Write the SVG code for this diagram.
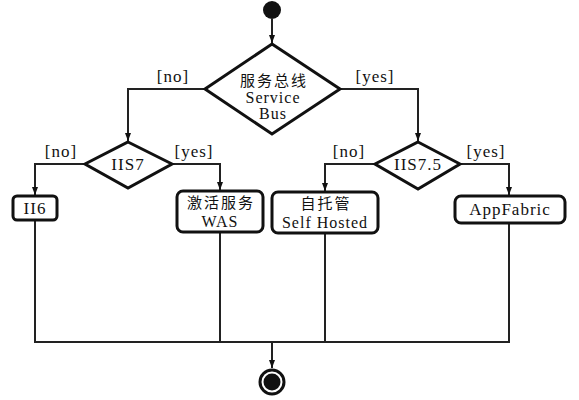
<svg xmlns="http://www.w3.org/2000/svg" width="579" height="400" viewBox="0 0 579 400">
<style>
  .t { font-family: "Liberation Serif", "Noto Sans CJK SC", serif; font-size: 17px; fill: #111; text-anchor: middle; letter-spacing: 1px; }
  .s { font-size: 16px; }
  .cjk { font-family: "Noto Sans CJK SC", "Liberation Serif", sans-serif; font-size: 15px; letter-spacing: 2px; }
  .shape { fill: #fff; stroke: #111; stroke-width: 3; stroke-linejoin: miter; }
  .box { fill: #fff; stroke: #111; stroke-width: 3; }
  .edge { fill: none; stroke: #222; stroke-width: 2; }
</style>
<defs>
  <marker id="arr" markerUnits="userSpaceOnUse" markerWidth="9" markerHeight="7" refX="8" refY="3" orient="auto">
    <path d="M0,0 L8,3 L0,6 z" fill="#111"/>
  </marker>
</defs>
<rect width="579" height="400" fill="#fff"/>
<g id="connectors">
  <path class="edge" d="M272,19 L272,43" marker-end="url(#arr)"/>
  <path class="edge" d="M205,89 L128,89 L128,141" marker-end="url(#arr)"/>
  <path class="edge" d="M340,89 L418,89 L418,141" marker-end="url(#arr)"/>
  <path class="edge" d="M85,164 L35,164 L35,195" marker-end="url(#arr)"/>
  <path class="edge" d="M172,164 L220,164 L220,190" marker-end="url(#arr)"/>
  <path class="edge" d="M375,164 L325,164 L325,191" marker-end="url(#arr)"/>
  <path class="edge" d="M460,164 L509,164 L509,195" marker-end="url(#arr)"/>
  <path class="edge" d="M35,220 L35,342 L509,342 L509,223"/>
  <path class="edge" d="M220,232 L220,342"/>
  <path class="edge" d="M325,233 L325,342"/>
  <path class="edge" d="M272,342 L272,368" marker-end="url(#arr)"/>
  <text class="t" x="173" y="82">[no]</text>
  <text class="t" x="375" y="82">[yes]</text>
  <text class="t" x="61" y="157">[no]</text>
  <text class="t" x="194" y="157">[yes]</text>
  <text class="t" x="349" y="157">[no]</text>
  <text class="t" x="486" y="157">[yes]</text>
</g>
<g id="start">
  <circle cx="272" cy="10" r="9" fill="#111"/>
</g>
<g id="decision-servicebus">
  <polygon class="shape" points="272,44 340,89 272,134 205,89"/>
  <text class="t cjk" x="274" y="86">服务总线</text>
  <text class="t s" x="273" y="103">Service</text>
  <text class="t s" x="273" y="119">Bus</text>
</g>
<g id="decision-iis7">
  <polygon class="shape" points="128,142 172,164 128,188 85,164"/>
  <text class="t" x="128" y="170">IIS7</text>
</g>
<g id="decision-iis75">
  <polygon class="shape" points="418,142 460,164 418,189 375,164"/>
  <text class="t" x="418" y="170">IIS7.5</text>
</g>
<g id="node-ii6">
  <rect class="box" x="13" y="196" width="44" height="24" rx="4"/>
  <text class="t" x="35" y="214">II6</text>
</g>
<g id="node-was">
  <rect class="box" x="177" y="191" width="86" height="41" rx="6"/>
  <text class="t cjk" x="221" y="208">激活服务</text>
  <text class="t s" x="220" y="227">WAS</text>
</g>
<g id="node-selfhosted">
  <rect class="box" x="272" y="192" width="106" height="41" rx="6"/>
  <text class="t cjk" x="326" y="209">自托管</text>
  <text class="t s" x="325" y="228">Self Hosted</text>
</g>
<g id="node-appfabric">
  <rect class="box" x="455" y="196" width="110" height="27" rx="6"/>
  <text class="t" x="510" y="215">AppFabric</text>
</g>
<g id="end">
  <circle cx="272" cy="382" r="12" fill="#fff" stroke="#111" stroke-width="3"/>
  <circle cx="272" cy="382" r="8.5" fill="#111"/>
</g>
</svg>
